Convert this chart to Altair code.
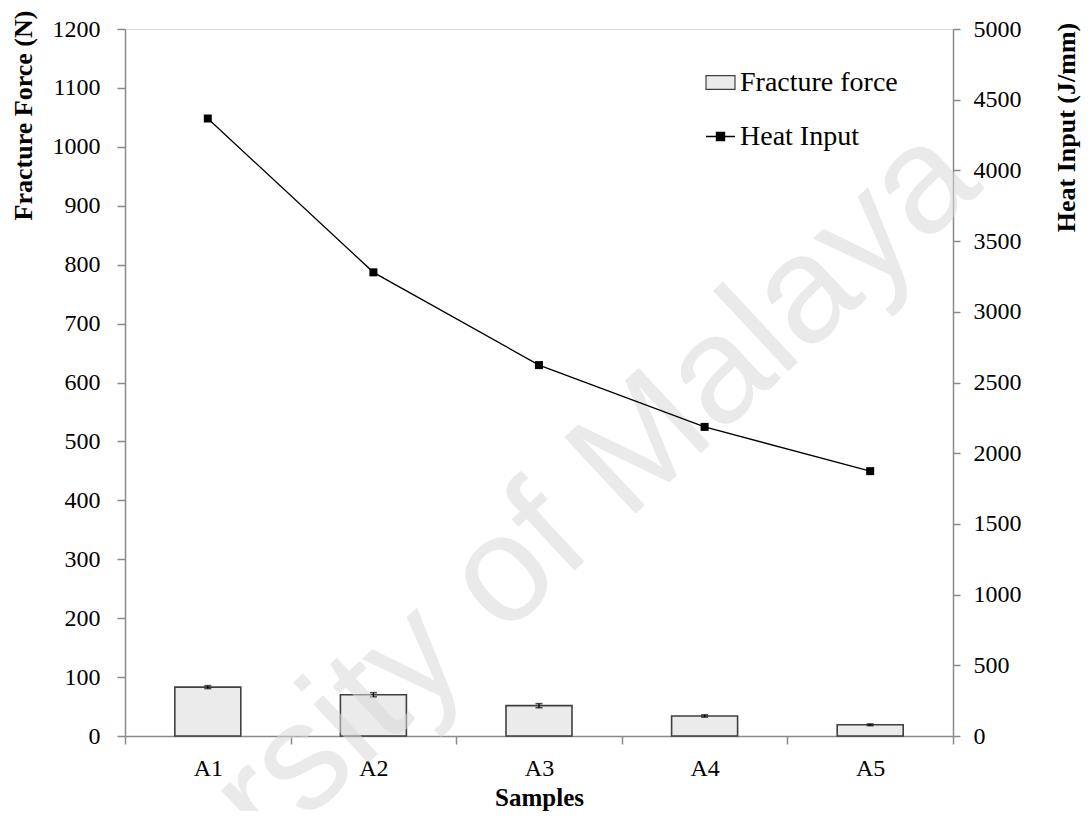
import json
import altair as alt
import pandas as pd

samples = ["A1", "A2", "A3", "A4", "A5"]
fracture_force = [83, 70, 51.5, 34, 19]
force_error = [2.5, 3.5, 3.5, 2, 1.5]
heat_input = [4367, 3279, 2623, 2186, 1873]
left_ticks = list(range(0, 1201, 100))
right_ticks = list(range(0, 5001, 500))
watermark = ["University of Malaya"]

df = pd.DataFrame({"sample": samples, "force": fracture_force,
                   "err": force_error, "heat": heat_input})
df["idx"] = list(range(1, len(samples) + 1))
df["lo"] = df["force"] - df["err"]
df["hi"] = df["force"] + df["err"]
df["s1"] = "Fracture force"
df["s2"] = "Heat Input"

FONT = "Liberation Serif"
GRAY = "#8a8a8a"
RECT = "M-1,-0.48H1V0.48H-1Z"
LINESQ = "M-1,0H1M-0.28,-0.28H0.28V0.28H-0.28Z"

n = len(samples)
x_values = [i / 2 for i in range(1, 2 * n + 2)]  # boundaries and centres
label_expr = ("datum.value % 1 === 0 ? " + json.dumps(samples).replace('"', "'")
              + "[datum.value - 1] : ''")

xscale = alt.Scale(domain=[0.5, n + 0.5], nice=False, zero=False, padding=0)
xaxis = alt.Axis(values=x_values, labelExpr=label_expr, labelOverlap=False,
                 labelFlush=False, grid=False,
                 labelFont=FONT, labelFontSize=24, labelColor="black", labelPadding=12,
                 tickSize=8, tickColor=GRAY, tickWidth=1.5,
                 tickOpacity={"condition": {"test": "datum.value % 1 === 0", "value": 0},
                              "value": 1},
                 domainColor=GRAY, domainWidth=1.5,
                 title="Samples", titleFont=FONT, titleFontSize=25, titleFontWeight="bold",
                 titleColor="black", titleY=69, titleBaseline="alphabetic")
X = alt.X("idx:Q", scale=xscale, axis=xaxis)
Xn = alt.X("idx:Q", scale=xscale)

lscale = alt.Scale(domain=[0, 1200], nice=False)
yleft = alt.Y("force:Q", scale=lscale,
              axis=alt.Axis(values=left_ticks, orient="left", grid=False, format="d",
                            labelFont=FONT, labelFontSize=24, labelColor="black",
                            labelPadding=17, tickSize=8, tickColor=GRAY, tickWidth=1.5,
                            domainColor=GRAY, domainWidth=1.5,
                            title="Fracture Force (N)", titleFont=FONT, titleFontSize=26,
                            titleFontWeight="bold", titleColor="black", titleAngle=270,
                            titleX=-102, titleY=86, titleAlign="center",
                            titleBaseline="middle"))

bars = alt.Chart(df).mark_bar(stroke="#404040", strokeWidth=1.6, size=66).encode(
    x=X,
    y=yleft,
    fill=alt.Fill("s1:N", scale=alt.Scale(domain=["Fracture force"], range=["#ebebeb"]),
                  legend=alt.Legend(title=None, orient="none", legendX=580, legendY=38,
                                    padding=0, symbolType=RECT, symbolSize=841,
                                    symbolStrokeColor="#404040", symbolStrokeWidth=1.2,
                                    labelFont=FONT, labelFontSize=28, labelColor="black",
                                    labelOffset=4)),
)

err_rule = alt.Chart(df).mark_rule(color="black", strokeWidth=1.3).encode(
    x=Xn, y=alt.Y("lo:Q", scale=lscale), y2="hi:Q",
)
err_lo = alt.Chart(df).mark_tick(color="black", size=7, thickness=1.5,
                                 orient="horizontal").encode(
    x=Xn, y=alt.Y("lo:Q", scale=lscale),
)
err_hi = alt.Chart(df).mark_tick(color="black", size=7, thickness=1.5,
                                 orient="horizontal").encode(
    x=Xn, y=alt.Y("hi:Q", scale=lscale),
)

left = alt.layer(bars, err_rule, err_lo, err_hi)

wm = alt.Chart(pd.DataFrame({"t": watermark})).mark_text(
    font="Liberation Sans", fontSize=152, color="#d9d9d9", opacity=0.55,
    angle=317, align="center", baseline="middle",
).encode(text="t:N", x=alt.value(328), y=alt.value(592))

yright_scale = alt.Scale(domain=[0, 5000], nice=False)
yright_axis = alt.Axis(values=right_ticks, orient="right", grid=False, format="d",
                       labelFont=FONT, labelFontSize=24, labelColor="black",
                       labelPadding=13, tickSize=7, tickColor=GRAY, tickWidth=1.5,
                       domainColor=GRAY, domainWidth=1.5,
                       title="Heat Input (J/mm)", titleFont=FONT, titleFontSize=26,
                       titleFontWeight="bold", titleColor="black", titleAngle=270,
                       titleX=113, titleY=98, titleAlign="center", titleBaseline="middle")

line = alt.Chart(df).mark_line(strokeWidth=1.3).encode(
    x=Xn,
    y=alt.Y("heat:Q", scale=yright_scale, axis=yright_axis),
    stroke=alt.Stroke("s2:N", scale=alt.Scale(domain=["Heat Input"], range=["black"]),
                      legend=alt.Legend(title=None, orient="none", legendX=580, legendY=92,
                                        padding=0, symbolType=LINESQ, symbolSize=841,
                                        symbolFillColor="black", symbolStrokeColor="black",
                                        symbolStrokeWidth=1.3,
                                        labelFont=FONT, labelFontSize=28, labelColor="black",
                                        labelOffset=4)),
)
pts = alt.Chart(df).mark_square(size=64, color="black", opacity=1).encode(
    x=Xn,
    y=alt.Y("heat:Q", scale=yright_scale),
)
right = alt.layer(wm, line, pts)

chart = alt.layer(left, right).resolve_scale(y="independent").properties(
    width=828, height=707,
    autosize=alt.AutoSizeParams(type="none"),
    padding={"left": 117, "top": 21, "right": 130, "bottom": 75},
).configure_view(stroke=None).configure(background="white")

chart.save("out.html", embed_options={"renderer": "svg", "actions": False})
